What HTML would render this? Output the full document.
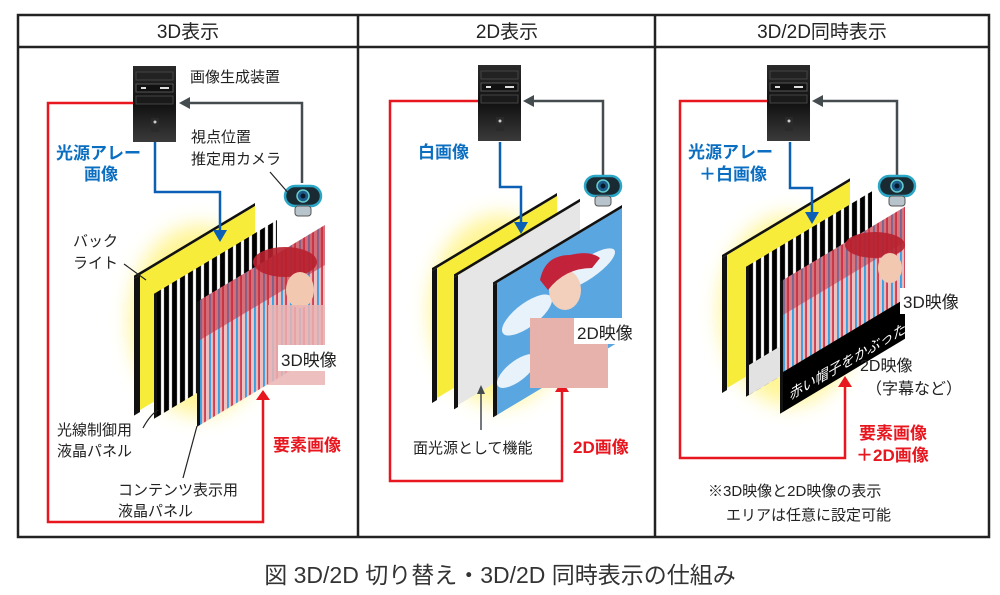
<!DOCTYPE html>
<html><head><meta charset="utf-8"><style>
html,body{margin:0;padding:0;background:#fff;}
svg{display:block;}
text{font-family:"Liberation Sans","Noto Sans CJK JP",sans-serif;}
</style></head><body>
<svg width="1000" height="595" viewBox="0 0 1000 595" xmlns="http://www.w3.org/2000/svg">
<defs>
<filter id="blur" x="-50%" y="-50%" width="200%" height="200%"><feGaussianBlur stdDeviation="10"/></filter>
<linearGradient id="pc" x1="0" y1="0" x2="0" y2="1"><stop offset="0" stop-color="#2a2a2a"/><stop offset="0.5" stop-color="#111"/><stop offset="1" stop-color="#3a3a3a"/></linearGradient>
<pattern id="stripes" width="8" height="10" patternUnits="userSpaceOnUse"><rect width="8" height="10" fill="#000"/><rect x="4" width="3" height="10" fill="#fff"/></pattern>
<pattern id="st3d" width="9" height="10" patternUnits="userSpaceOnUse"><rect width="9" height="10" fill="#eec2c2"/><rect x="0" width="2" height="10" fill="#3aa0e0"/><rect x="4" width="2" height="10" fill="#d04050"/></pattern>
<g id="pcicon">
<rect x="0" y="0" width="43" height="76" fill="url(#pc)"/>
<rect x="3" y="6" width="37" height="8" fill="#222" stroke="#444" stroke-width="1"/>
<rect x="3" y="18" width="37" height="8" fill="#111" stroke="#555" stroke-width="1"/>
<rect x="8" y="21" width="5" height="2" fill="#ddd"/><rect x="27" y="21" width="9" height="2" fill="#ddd"/>
<rect x="3" y="30" width="37" height="8" fill="#1a1a1a" stroke="#444" stroke-width="1"/>
<rect x="18" y="52" width="8" height="14" fill="#2a2a2a"/><circle cx="22" cy="56" r="1.5" fill="#ccc"/>
</g>
<g id="cam">
<rect x="0" y="0" width="36" height="20" rx="10" fill="#1a2a33" stroke="#2aa6c6" stroke-width="2.5"/>
<circle cx="18" cy="10" r="6" fill="#1c5c8a" stroke="#6cc" stroke-width="1.5"/>
<circle cx="18" cy="10" r="2.5" fill="#0a1a2a"/>
<rect x="10" y="20" width="16" height="10" rx="3" fill="#b8c4cc" stroke="#555" stroke-width="1"/>
</g>
</defs>

<rect x="18" y="15" width="971" height="522" fill="#fff" stroke="#222" stroke-width="2.5"/>
<line x1="18" y1="47" x2="989" y2="47" stroke="#222" stroke-width="2.5"/>
<line x1="358" y1="15" x2="358" y2="537" stroke="#222" stroke-width="2.5"/>
<line x1="655" y1="15" x2="655" y2="537" stroke="#222" stroke-width="2.5"/>
<text x="188" y="38" font-size="19" text-anchor="middle" fill="#222">3D表示</text>
<text x="507" y="38" font-size="19" text-anchor="middle" fill="#222">2D表示</text>
<text x="822" y="38" font-size="19" text-anchor="middle" fill="#222">3D/2D同時表示</text>

<!-- ===== Panel 1 ===== -->
<ellipse cx="200" cy="320" rx="70" ry="95" fill="#fff27a" filter="url(#blur)" opacity="0.8"/>
<polyline points="133,103 48,103 48,522 263,522 263,398" fill="none" stroke="#e8161e" stroke-width="2.5"/>
<path d="M256,400 L263,390 L270,400z" fill="#e8161e"/>
<g transform="matrix(1 -0.6 0 1 140 275)">
<rect x="0" y="0" width="115" height="135" fill="#f7ec3a"/>
<rect x="-6" y="0" width="6" height="137" fill="#111"/>
<rect x="-6" y="-3" width="121" height="3" fill="#111"/>
</g>
<g transform="matrix(1 -0.6 0 1 157 292)">
<rect x="0" y="0" width="120" height="125" fill="url(#stripes)"/>
<rect x="-3" y="0" width="3" height="125" fill="#111"/>
</g>
<g transform="matrix(1 -0.6 0 1 200 300)">
<rect x="0" y="0" width="125" height="125" fill="url(#st3d)"/>
<rect x="0" y="0" width="125" height="40" fill="#c0283a" opacity="0.55"/>
<rect x="-3" y="0" width="3" height="125" fill="#111"/>
</g>
<ellipse cx="285" cy="262" rx="32" ry="15" fill="#b8202e" opacity="0.9"/>
<ellipse cx="300" cy="290" rx="14" ry="18" fill="#f2c8b0"/>
<rect x="268" y="305" width="57" height="80" fill="#eab4b4" opacity="0.85"/>
<rect x="278" y="345" width="50" height="26" fill="#fff"/>
<text x="281" y="366" font-size="17" fill="#222">3D映像</text>
<polyline points="155,142 155,192 220,192 220,232" fill="none" stroke="#0b5fb5" stroke-width="2.5"/>
<path d="M213,230 L220,242 L227,230z" fill="#0b5fb5"/>
<polyline points="302,183 302,103 188,103" fill="none" stroke="#444c50" stroke-width="2.5"/>
<path d="M190,97 L179,103 L190,109z" fill="#444c50"/>
<use href="#pcicon" x="133" y="66"/>
<use href="#cam" x="285" y="186"/>
<line x1="270" y1="172" x2="290" y2="195" stroke="#222" stroke-width="1.2"/>
<text x="190" y="82" font-size="15" fill="#222">画像生成装置</text>
<text x="191" y="142" font-size="15" fill="#222">視点位置</text>
<text x="191" y="164" font-size="15" fill="#222">推定用カメラ</text>
<text x="56" y="159" font-size="17" font-weight="bold" fill="#0b6ec0">光源アレー</text>
<text x="84" y="180" font-size="17" font-weight="bold" fill="#0b6ec0">画像</text>
<text x="73" y="246" font-size="15" fill="#222">バック</text>
<text x="73" y="268" font-size="15" fill="#222">ライト</text>
<line x1="124" y1="264" x2="146" y2="280" stroke="#222" stroke-width="1.2"/>
<text x="57" y="435" font-size="15" fill="#222">光線制御用</text>
<text x="57" y="456" font-size="15" fill="#222">液晶パネル</text>
<path d="M143,428 Q150,415 158,410" fill="none" stroke="#222" stroke-width="1.2"/>
<text x="118" y="495" font-size="15" fill="#222">コンテンツ表示用</text>
<text x="118" y="516" font-size="15" fill="#222">液晶パネル</text>
<line x1="183" y1="478" x2="197" y2="426" stroke="#222" stroke-width="1.2"/>
<text x="273" y="451" font-size="17" font-weight="bold" fill="#e8161e">要素画像</text>

<!-- ===== Panel 2 ===== -->
<ellipse cx="500" cy="310" rx="70" ry="95" fill="#fff27a" filter="url(#blur)" opacity="0.8"/>
<polyline points="478,101 390,101 390,481 562,481 562,390" fill="none" stroke="#e8161e" stroke-width="2.5"/>
<path d="M555,392 L562,381 L569,392z" fill="#e8161e"/>
<g transform="matrix(1 -0.6 0 1 437 268)">
<rect x="0" y="0" width="120" height="130" fill="#f7ec3a"/>
<rect x="-5" y="0" width="5" height="132" fill="#111"/>
<rect x="-5" y="-3" width="125" height="3" fill="#111"/>
</g>
<g transform="matrix(1 -0.6 0 1 458 275)">
<rect x="0" y="0" width="122" height="130" fill="#e6e6e6"/>
<rect x="-4" y="0" width="4" height="132" fill="#111"/>
<rect x="-4" y="-3" width="126" height="3" fill="#111"/>
</g>
<g transform="matrix(1 -0.6 0 1 497 283)">
<rect x="0" y="0" width="125" height="132" fill="#5aa6e0"/>
<ellipse cx="30" cy="50" rx="25" ry="14" fill="#e8f2fa"/>
<ellipse cx="90" cy="40" rx="28" ry="12" fill="#e8f2fa"/>
<ellipse cx="20" cy="100" rx="20" ry="12" fill="#e8f2fa"/>
<rect x="-4" y="0" width="4" height="132" fill="#111"/>
<rect x="-4" y="-3" width="129" height="3" fill="#111"/>
</g>
<rect x="530" y="318" width="78" height="70" fill="#e8b2ac"/>
<ellipse cx="565" cy="290" rx="16" ry="20" fill="#f2d0bc"/>
<path d="M540,280 Q545,255 570,255 Q590,250 600,258 L592,268 Q565,268 548,290z" fill="#c2233a"/>
<rect x="574" y="318" width="50" height="26" fill="#fff"/>
<text x="577" y="339" font-size="17" fill="#222">2D映像</text>
<polyline points="500,142 500,187 521,187 521,224" fill="none" stroke="#0b5fb5" stroke-width="2.5"/>
<path d="M514,222 L521,234 L528,222z" fill="#0b5fb5"/>
<polyline points="603,175 603,101 532,101" fill="none" stroke="#444c50" stroke-width="2.5"/>
<path d="M534,95 L523,101 L534,107z" fill="#444c50"/>
<line x1="481" y1="430" x2="481" y2="392" stroke="#444c50" stroke-width="1.5"/>
<path d="M477,394 L481,385 L485,394z" fill="#444c50"/>
<use href="#pcicon" x="478" y="65"/>
<use href="#cam" x="585" y="176"/>
<text x="418" y="158" font-size="17" font-weight="bold" fill="#0b6ec0">白画像</text>
<text x="413" y="453" font-size="15" fill="#222">面光源として機能</text>
<text x="573" y="453" font-size="17" font-weight="bold" fill="#e8161e">2D画像</text>

<!-- ===== Panel 3 ===== -->
<ellipse cx="790" cy="310" rx="70" ry="95" fill="#fff27a" filter="url(#blur)" opacity="0.8"/>
<polyline points="767,101 680,101 680,458 845,458 845,385" fill="none" stroke="#e8161e" stroke-width="2.5"/>
<path d="M838,387 L845,376 L852,387z" fill="#e8161e"/>
<g transform="matrix(1 -0.6 0 1 727 255)">
<rect x="0" y="0" width="123" height="133" fill="#f7ec3a"/>
<rect x="-5" y="0" width="5" height="135" fill="#111"/>
<rect x="-5" y="-3" width="128" height="3" fill="#111"/>
</g>
<g transform="matrix(1 -0.6 0 1 749 265)">
<rect x="0" y="0" width="123" height="130" fill="url(#stripes)"/>
<rect x="0" y="100" width="40" height="30" fill="#e2e2e2"/>
<rect x="-3" y="0" width="3" height="130" fill="#111"/>
</g>
<g transform="matrix(1 -0.6 0 1 783 280)">
<rect x="0" y="0" width="122" height="95" fill="url(#st3d)"/>
<rect x="0" y="0" width="122" height="35" fill="#c0283a" opacity="0.5"/>
<rect x="0" y="92" width="122" height="40" fill="#000"/>
<rect x="-3" y="0" width="3" height="132" fill="#111"/>
</g>
<ellipse cx="875" cy="245" rx="30" ry="13" fill="#b8202e" opacity="0.9"/>
<ellipse cx="890" cy="268" rx="12" ry="15" fill="#f2c8b0"/>
<text transform="matrix(0.86 -0.5 0 1 790 400)" font-size="15" fill="#fff">赤い帽子をかぶった</text>
<rect x="900" y="288" width="62" height="26" fill="#fff"/>
<text x="903" y="308" font-size="17" fill="#222">3D映像</text>
<text x="860" y="371" font-size="16" fill="#222">2D映像</text>
<text x="866" y="394" font-size="16" fill="#222">（字幕など）</text>
<polyline points="790,142 790,188 812,188 812,214" fill="none" stroke="#0b5fb5" stroke-width="2.5"/>
<path d="M805,212 L812,224 L819,212z" fill="#0b5fb5"/>
<polyline points="897,175 897,101 821,101" fill="none" stroke="#444c50" stroke-width="2.5"/>
<path d="M823,95 L812,101 L823,107z" fill="#444c50"/>
<use href="#pcicon" x="767" y="65"/>
<use href="#cam" x="879" y="176"/>
<text x="688" y="158" font-size="17" font-weight="bold" fill="#0b6ec0">光源アレー</text>
<text x="699" y="180" font-size="17" font-weight="bold" fill="#0b6ec0">＋白画像</text>
<text x="859" y="439" font-size="17" font-weight="bold" fill="#e8161e">要素画像</text>
<text x="856" y="461" font-size="17" font-weight="bold" fill="#e8161e">＋2D画像</text>
<text x="708" y="496" font-size="15" fill="#222">※3D映像と2D映像の表示</text>
<text x="726" y="520" font-size="15" fill="#222">エリアは任意に設定可能</text>

<text x="500" y="583" font-size="23" text-anchor="middle" fill="#333">図 3D/2D 切り替え・3D/2D 同時表示の仕組み</text>
</svg>
</body></html>
